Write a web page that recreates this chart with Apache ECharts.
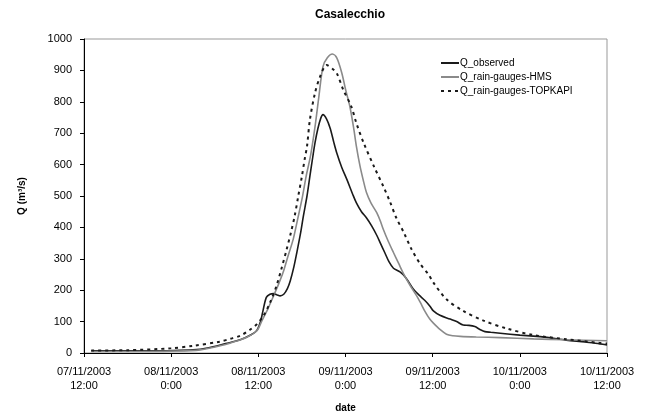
<!DOCTYPE html>
<html>
<head>
<meta charset="utf-8">
<script src="https://cdn.jsdelivr.net/npm/echarts@6/dist/echarts.min.js"></script>
<style>
html, body { margin: 0; padding: 0; background: #fff; }
#chart { width: 649px; height: 418px; }
</style>
</head>
<body>
<div id="chart"></div>
<script>
// hours after 07/11/2003 12:00
var tickLabels = ['07/11/2003\n12:00', '08/11/2003\n0:00', '08/11/2003\n12:00', '09/11/2003\n0:00',
    '09/11/2003\n12:00', '10/11/2003\n0:00', '10/11/2003\n12:00'];

var obsHours = [1, 6, 12, 15, 17, 19.5, 21.5, 23, 23.8, 24.3, 24.6, 25.1, 25.6, 26.1, 26.6, 27, 27.5, 28, 28.4, 28.9,
    29.3, 29.8, 30.2, 30.7, 31.1, 31.5, 31.8, 32.2, 32.6, 32.9, 33.4, 33.9, 34.4, 34.8, 35.5, 36.2, 37, 37.5, 38.2, 38.9,
    39.6, 40.3, 40.8, 41.4, 42, 42.6, 43.5, 44.3, 45.3, 46.1, 46.9, 47.6, 48.1, 49, 50.4, 51.3, 52.2, 53, 53.8, 54.5,
    55.2, 56, 57.3, 60, 62.8, 64, 66.4, 69, 71, 72];
var obsValues = [7, 7, 8, 10, 16, 30, 42, 58, 72, 100, 130, 177, 187, 189, 185, 182, 187, 205, 230, 275,
    320, 380, 436, 500, 563, 625, 669, 715, 748, 759, 745, 715, 670, 637, 590, 552, 505, 478, 450, 430,
    405, 375, 350, 320, 290, 270, 258, 240, 205, 185, 168, 150, 134, 120, 108, 100, 89, 88, 84, 75,
    68, 66, 63, 57, 52, 49, 41, 35, 29, 26];

var hmsHours = [1, 6, 12, 16, 19.6, 21, 22.4, 23.8, 24.5, 25.3, 26.1, 26.8, 27.4, 28.1, 28.8, 29.4, 30, 30.6, 31.2, 31.8,
    32.3, 32.9, 33.5, 34.2, 34.8, 35.5, 36, 36.6, 37.1, 37.5, 38, 38.5, 38.9, 39.5, 40.3, 40.8, 41.2, 41.9, 42.6, 43.3,
    44, 44.9, 45.8, 46.3, 47, 47.6, 48.1, 49, 49.9, 50.8, 51.8, 54, 57.3, 61.9, 66.4, 72];
var hmsValues = [5, 5, 6, 10, 28, 38, 50, 71, 103, 140, 182, 220, 256, 310, 362, 425, 489, 565, 630, 720,
    810, 912, 940, 952, 940, 891, 840, 785, 720, 658, 595, 545, 510, 478, 447, 420, 394, 355, 320, 286,
    252, 215, 182, 161, 130, 108, 95, 75, 60, 55, 53, 51, 49, 45, 42, 39];

var topHours = [1, 6, 12, 15, 18.7, 20.1, 21.5, 22.9, 23.8, 24.7, 25.6, 26.5, 27.2, 27.9, 28.5, 29, 29.5, 30, 30.4, 30.7,
    31.1, 31.8, 32.5, 33.4, 34.2, 34.8, 35.7, 36.8, 37.5, 38.5, 40, 41.2, 42.1, 43, 44, 45.1, 46.3, 47.4, 48.1, 49.9,
    52.2, 55, 58.2, 61.9, 66.4, 71, 72];
var topValues = [8, 9, 15, 23, 36, 45, 55, 75, 92, 118, 160, 214, 270, 330, 385, 436, 500, 563, 620, 658,
    743, 828, 880, 917, 905, 891, 838, 785, 732, 669, 590, 531, 483, 430, 385, 330, 283, 251, 224, 171,
    134, 103, 78, 57, 44, 32, 30];

function pairs(h, v) {
    return h.map(function (x, i) { return [x, v[i]]; });
}

var font = 'Liberation Sans, Arial, sans-serif';

echarts.init(document.getElementById('chart')).setOption({
    animation: false,
    title: {
        text: 'Casalecchio',
        left: 345,
        textAlign: 'center',
        top: 4,
        textStyle: { fontFamily: font, fontSize: 12, fontWeight: 'bold', color: '#000' }
    },
    legend: {
        orient: 'vertical',
        left: 435,
        top: 53,
        itemGap: 4,
        itemWidth: 18,
        itemHeight: 10,
        itemStyle: { opacity: 0 },
        textStyle: { fontFamily: font, fontSize: 10, color: '#000', padding: [0, 0, 0, -4] },
        data: ['Q_observed', 'Q_rain-gauges-HMS', 'Q_rain-gauges-TOPKAPI']
    },
    grid: {
        left: 84, right: 42, top: 39, bottom: 64,
        show: true, borderColor: '#999', borderWidth: 1
    },
    xAxis: {
        type: 'value',
        min: 0, max: 72, interval: 12,
        name: 'date',
        nameLocation: 'middle',
        nameGap: 50,
        nameTextStyle: { fontFamily: font, fontSize: 10, fontWeight: 'bold', color: '#000' },
        axisLine: { lineStyle: { color: '#000', width: 1 } },
        axisTick: { length: 4, lineStyle: { color: '#000' } },
        splitLine: { show: false },
        axisLabel: {
            fontFamily: font, fontSize: 11, color: '#000', margin: 12, lineHeight: 14,
            formatter: function (v) { return tickLabels[Math.round(v / 12)]; }
        }
    },
    yAxis: {
        type: 'value',
        min: 0, max: 1000, interval: 100,
        name: 'Q (m³/s)',
        nameLocation: 'middle',
        nameGap: 57,
        nameTextStyle: { fontFamily: font, fontSize: 10, fontWeight: 'bold', color: '#000' },
        axisLine: { show: true, lineStyle: { color: '#000', width: 1 } },
        axisTick: { show: true, length: 4, lineStyle: { color: '#000' } },
        splitLine: { show: false },
        axisLabel: {
            fontFamily: font, fontSize: 11, color: '#000', margin: 12,
            formatter: function (v) { return String(v); }
        }
    },
    series: [{
        name: 'Q_observed',
        type: 'line',
        data: pairs(obsHours, obsValues),
        symbol: 'none',
        smooth: 0.3,
        lineStyle: { color: '#1a1a1a', width: 1.6 },
        itemStyle: { color: '#1a1a1a' }
    }, {
        name: 'Q_rain-gauges-HMS',
        type: 'line',
        data: pairs(hmsHours, hmsValues),
        symbol: 'none',
        smooth: 0.3,
        lineStyle: { color: '#8a8a8a', width: 1.6 },
        itemStyle: { color: '#8a8a8a' }
    }, {
        name: 'Q_rain-gauges-TOPKAPI',
        type: 'line',
        data: pairs(topHours, topValues),
        symbol: 'none',
        smooth: 0.3,
        lineStyle: { color: '#1a1a1a', width: 2, type: [3, 4] },
        itemStyle: { color: '#1a1a1a' }
    }]
});
</script>
</body>
</html>
